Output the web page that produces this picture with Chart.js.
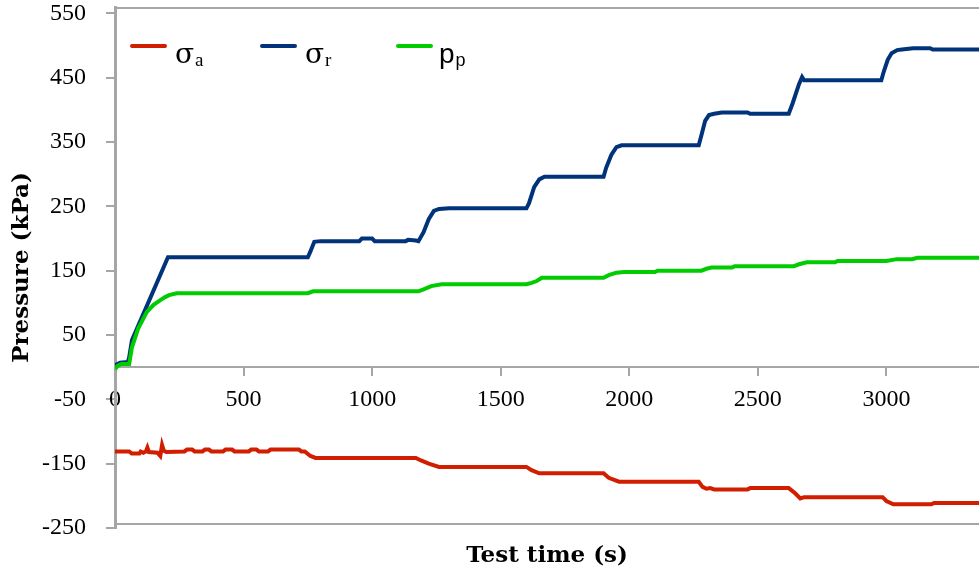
<!DOCTYPE html>
<html>
<head>
<meta charset="utf-8">
<script src="https://cdn.jsdelivr.net/npm/chart.js@4.4.1/dist/chart.umd.min.js"></script>
<style>
  html, body { margin: 0; padding: 0; background: #fff; }
</style>
</head>
<body>
<canvas id="chart" width="979" height="571"></canvas>
<script>
// ── Data ─────────────────────────────────────────────────
const xTicks = [0, 500, 1000, 1500, 2000, 2500, 3000];
const yTicks = [-250, -150, -50, 50, 150, 250, 350, 450, 550];

const legendMain = ['σ', 'σ', 'p'];
const legendSub  = ['a', 'r', 'p'];

// σa (axial)
const timeA  = [0, 55, 65, 95, 100, 110, 120, 126, 132, 165, 176, 183, 190, 200, 270, 280, 300, 310, 340, 350, 365,
                375, 420, 430, 455, 465, 520, 530, 550, 560, 595, 605, 640, 650, 715, 725, 738, 760, 780,
                1170, 1190, 1220, 1260, 1600, 1620, 1650, 1900, 1920, 1960, 2270, 2285, 2300, 2315, 2330,
                2460, 2470, 2620, 2645, 2665, 2680, 2985, 3000, 3027, 3175, 3185, 3360];
const sigmaA = [-131, -131, -134, -134, -131, -133, -131, -125, -132, -133, -138, -121, -130, -132, -131, -128, -128, -131, -131, -128, -128,
                -131, -131, -128, -128, -131, -131, -128, -128, -131, -131, -128, -128, -128, -128, -131, -131, -138, -141,
                -141, -145, -150, -155, -155, -160, -165, -165, -172, -178, -178, -186, -189, -188, -190,
                -190, -188, -188, -196, -204, -202, -202, -208, -213, -213, -211, -211];

// σr (radial)
const timeR  = [0, 20, 50, 55, 66, 206, 750, 760, 775, 800, 950, 960, 1000, 1010, 1130, 1140, 1170, 1180, 1200,
                1220, 1240, 1260, 1300, 1600, 1610, 1630, 1650, 1670, 1900, 1910, 1930, 1950, 1970, 2270, 2280,
                2295, 2310, 2330, 2360, 2460, 2470, 2620, 2635, 2660, 2672, 2680, 2980, 2990, 3005, 3020, 3042,
                3060, 3104, 3170, 3180, 3360];
const sigmaR = [3, 7, 8, 15, 42, 171, 171, 180, 195, 196, 196, 200, 200, 196, 196, 198, 197, 196, 210,
                230, 243, 246, 247, 247, 255, 280, 292, 296, 296, 310, 330, 342, 345, 345, 360,
                383, 392, 394, 396, 396, 394, 394, 410, 440, 451, 446, 446, 460, 478, 488, 493,
                494, 496, 496, 494, 494];

// pp (pore pressure)
const timeP  = [0, 10, 25, 55, 66, 90, 124, 150, 175, 195, 210, 240, 750, 770, 1180, 1200, 1230, 1270, 1600,
                1620, 1640, 1660, 1900, 1920, 1950, 1980, 2100, 2110, 2280, 2300, 2320, 2400, 2410, 2640, 2660,
                2690, 2800, 2810, 3000, 3040, 3100, 3120, 3360];
const poreP  = [-3, 2, 5, 5, 31, 60, 86, 97, 104, 109, 112, 115, 115, 118, 118, 121, 126, 129, 129,
                131, 134, 139, 139, 143, 147, 148, 148, 150, 150, 153, 155, 155, 157, 157, 160,
                163, 163, 165, 165, 168, 168, 170, 170];

const COLORS = ['#d21e00', '#00337a', '#00cc00'];
const AXIS_GRAY = '#a6a6a6';

function toPoints(ts, vs) {
  return ts.map((t, i) => ({ x: t, y: vs[i] }));
}

// ── Plugins ──────────────────────────────────────────────
// plot frame (top & bottom lines)
const framePlugin = {
  id: 'frame',
  beforeDatasetsDraw(chart) {
    const { ctx, chartArea: a } = chart;
    ctx.save();
    ctx.strokeStyle = AXIS_GRAY;
    ctx.lineWidth = 2;
    ctx.beginPath();
    ctx.moveTo(a.left, a.top + 1);
    ctx.lineTo(a.right, a.top + 1);
    ctx.moveTo(a.left, a.bottom - 4);
    ctx.lineTo(a.right, a.bottom - 4);
    ctx.stroke();
    ctx.restore();
  }
};

// legend with subscripts, inside the plot area
const subLegend = {
  id: 'subLegend',
  afterDraw(chart, args, opts) {
    const { ctx, chartArea: a } = chart;
    ctx.save();
    legendMain.forEach((m, i) => {
      const x0 = a.left + opts.offsets[i];
      const y0 = a.top + opts.lineY;
      ctx.strokeStyle = COLORS[i];
      ctx.lineWidth = 4;
      ctx.lineCap = 'round';
      ctx.beginPath();
      ctx.moveTo(x0, y0);
      ctx.lineTo(x0 + 33, y0);
      ctx.stroke();

      const sans = i === 2;
      ctx.fillStyle = '#000';
      ctx.textBaseline = 'alphabetic';
      ctx.textAlign = 'left';
      ctx.font = sans ? '28px "Liberation Sans"' : '28px "DejaVu Serif"';
      const tx = x0 + (sans ? 41 : 43);
      ctx.fillText(m, tx, y0 + opts.baseline);
      const w = ctx.measureText(m).width;
      ctx.font = sans ? '18px "Liberation Sans"' : '19px "Liberation Serif"';
      ctx.fillText(legendSub[i], tx + w + 1, y0 + opts.baseline + 3);
    });
    ctx.restore();
  }
};

// ── Chart ────────────────────────────────────────────────
const labels = ['σa', 'σr', 'pp'];
const series = [toPoints(timeA, sigmaA), toPoints(timeR, sigmaR), toPoints(timeP, poreP)];

new Chart(document.getElementById('chart'), {
  type: 'line',
  data: {
    datasets: series.map((d, i) => ({
      label: labels[i],
      data: d,
      borderColor: COLORS[i],
      backgroundColor: COLORS[i],
      borderWidth: 4,
      pointRadius: 0,
      tension: 0,
      fill: false,
      order: 2 - i,
    })),
  },
  options: {
    responsive: false,
    animation: false,
    layout: { padding: { left: 0, right: 0, top: 7, bottom: 0 } },
    scales: {
      x: {
        type: 'linear',
        min: 0,
        max: 3360,
        position: { y: 0 },
        afterBuildTicks: s => { s.ticks = xTicks.map(v => ({ value: v })); },
        afterFit: s => { s.paddingLeft = 0; s.paddingRight = 0; },
        border: { color: AXIS_GRAY, width: 2 },
        grid: { drawOnChartArea: false, drawTicks: true, tickLength: 8, color: AXIS_GRAY, lineWidth: 2 },
        ticks: {
          color: '#000', font: { family: '"Liberation Serif"', size: 24 }, padding: 10, maxRotation: 0,
          callback: v => String(v),
        },
      },
      y: {
        type: 'linear',
        min: -250,
        max: 560,
        afterBuildTicks: s => { s.ticks = yTicks.map(v => ({ value: v })); },
        afterFit: s => { s.width = 115; s.paddingTop = 0; s.paddingBottom = 0; },
        border: { color: AXIS_GRAY, width: 3 },
        grid: { drawOnChartArea: false, drawTicks: true, tickLength: 9, color: AXIS_GRAY, lineWidth: 2 },
        ticks: {
          color: '#000', font: { family: '"Liberation Serif"', size: 24 }, padding: 20,
          callback: v => String(v),
        },
        title: {
          display: true,
          text: 'Pressure (kPa)',
          color: '#000',
          font: { family: '"DejaVu Serif"', size: 23, weight: 'bold' },
          padding: { top: 8, bottom: 0 },
        },
      },
    },
    plugins: {
      legend: { display: false },
      tooltip: { enabled: false },
      title: {
        display: true,
        text: 'Test time (s)',
        position: 'bottom',
        fullSize: false,
        color: '#000',
        font: { family: '"DejaVu Serif"', size: 23, weight: 'bold' },
        padding: { top: 14, bottom: 1.4 },
      },
      subLegend: { offsets: [17, 147, 283], lineY: 39, baseline: 17 },
    },
  },
  plugins: [framePlugin, subLegend],
});
</script>
</body>
</html>
